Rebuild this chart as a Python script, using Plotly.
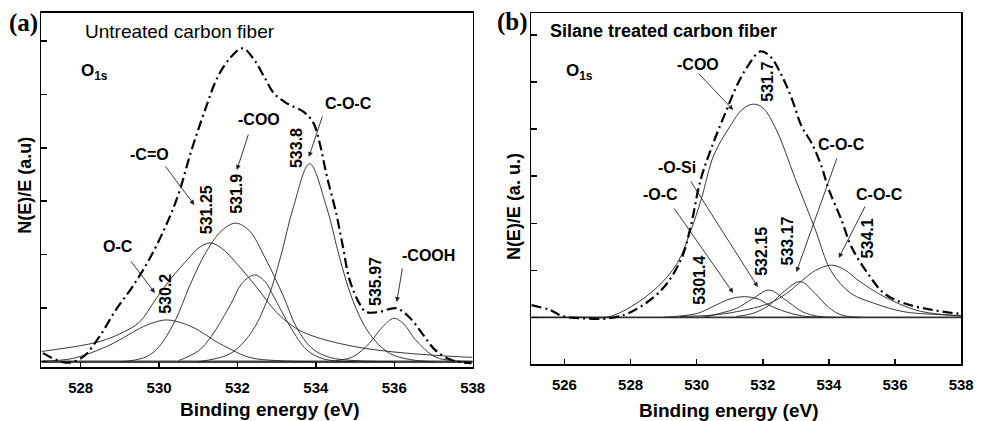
import plotly.graph_objects as go

W, H = 985, 421

# ---------------- Panel (a): untreated carbon fiber ----------------
a_oc_x = [527.0, 527.8, 528.65, 529.1, 529.5, 529.9, 530.2, 530.6, 531.0, 531.4, 531.7, 532.3, 533.0, 534.0]
a_oc_y = [0.01, 0.06, 0.28, 0.45, 0.62, 0.74, 0.78, 0.72, 0.59, 0.40, 0.28, 0.08, 0.02, 0.0]

a_co_x = [527.0, 528.0, 528.5, 529.0, 529.5, 529.9, 530.3, 530.75, 531.0, 531.3, 531.6, 532.0,
          532.5, 533.0, 533.5, 534.0, 535.0, 536.0, 537.0, 538.0]
a_co_y = [0.19, 0.30, 0.38, 0.52, 0.74, 1.15, 1.55, 1.93, 2.12, 2.22, 2.12, 1.82,
          1.38, 0.92, 0.62, 0.46, 0.28, 0.18, 0.12, 0.08]

a_coo_x = [529.0, 529.3, 529.7, 530.0, 530.4, 530.8, 531.2, 531.6, 531.95, 532.3, 532.7,
           533.18, 533.5, 533.9, 534.35, 535.0, 536.0]
a_coo_y = [0.0, 0.02, 0.10, 0.28, 0.75, 1.45, 2.05, 2.45, 2.59, 2.45, 1.95,
           1.21, 0.65, 0.25, 0.08, 0.02, 0.0]

a_p4_x = [530.5, 531.0, 531.33, 531.84, 532.1, 532.43, 532.7, 532.93, 533.35, 533.77, 534.2, 535.0]
a_p4_y = [0.02, 0.20, 0.47, 1.09, 1.45, 1.62, 1.50, 1.21, 0.65, 0.22, 0.05, 0.0]

a_coc_x = [531.0, 531.4, 531.84, 532.34, 532.76, 533.1, 533.43, 533.84, 534.27, 534.6, 534.94,
           535.36, 535.87, 536.4, 537.0]
a_coc_y = [0.0, 0.05, 0.16, 0.53, 1.15, 1.96, 2.90, 3.70, 2.90, 1.96, 1.15,
           0.53, 0.16, 0.04, 0.0]

a_cooh_x = [534.5, 534.94, 535.36, 535.7, 535.99, 536.25, 536.54, 537.04, 537.5, 538.0]
a_cooh_y = [0.02, 0.09, 0.34, 0.65, 0.81, 0.70, 0.41, 0.09, 0.02, 0.0]

a_env_x = [527.04, 527.64, 528.06, 528.48, 528.9, 529.32, 529.74, 530.16, 530.49, 530.83, 531.17,
           531.5, 531.84, 532.13, 532.43, 532.68, 532.93, 533.26, 533.69, 533.94, 534.1, 534.27,
           534.52, 534.69, 534.86, 535.11, 535.28, 535.62, 536.04, 536.37, 536.71, 537.04,
           537.46, 537.97]
a_env_y = [0.16, -0.02, 0.09, 0.47, 0.97, 1.40, 1.90, 2.52, 3.12, 3.96, 4.70,
           5.33, 5.70, 5.86, 5.64, 5.33, 5.02, 4.83, 4.67, 4.46, 4.08, 3.50,
           2.77, 2.15, 1.53, 1.09, 0.93, 0.93, 1.00, 0.84, 0.53, 0.22,
           0.03, -0.03]

a_base_x = [527.0, 538.0]
a_base_y = [0.0, 0.0]

# ---------------- Panel (b): silane treated carbon fiber ----------------
b_coo_x = [525.0, 526.5, 527.32, 528.02, 528.82, 529.41, 529.83, 530.13, 530.52, 531.0, 531.4, 531.71,
           532.0, 532.4, 532.98, 533.58, 534.07, 534.67, 535.37, 536.27, 537.65, 538.0]
b_coo_y = [0.0, 0.0, 0.01, 0.23, 0.65, 1.15, 1.86, 2.49, 3.45, 4.05, 4.43, 4.53,
           4.45, 4.0, 2.95, 1.88, 0.98, 0.51, 0.30, 0.12, 0.05, 0.04]

b_oc_x = [529.0, 529.5, 530.02, 530.52, 531.0, 531.45, 531.9, 532.19, 532.69, 533.2, 533.8]
b_oc_y = [0.0, 0.03, 0.085, 0.24, 0.39, 0.44, 0.38, 0.26, 0.12, 0.03, 0.0]

b_osi_x = [530.2, 530.7, 531.2, 531.7, 532.19, 532.69, 533.2, 533.7, 534.2]
b_osi_y = [0.0, 0.085, 0.19, 0.40, 0.58, 0.37, 0.12, 0.02, 0.0]

b_coc1_x = [531.2, 531.7, 532.19, 532.69, 533.14, 533.58, 533.98, 534.38, 535.0]
b_coc1_y = [0.02, 0.085, 0.26, 0.58, 0.76, 0.51, 0.22, 0.05, 0.0]

b_coc2_x = [529.5, 530.5, 531.2, 532.2, 532.7, 533.2, 533.6, 534.08, 534.5, 534.88, 535.67,
            536.66, 537.6, 538.0]
b_coc2_y = [0.02, 0.05, 0.12, 0.30, 0.50, 0.79, 1.00, 1.11, 1.00, 0.79, 0.44,
            0.15, 0.05, 0.03]

b_env_x = [525.0, 525.55, 525.94, 526.54, 527.34, 528.03, 528.93, 529.52, 529.82, 530.11, 530.5,
           530.9, 531.2, 531.51, 531.93, 532.23, 532.59, 532.89, 533.18, 533.48, 533.78, 533.98,
           534.38, 534.68, 535.17, 535.67, 536.27, 537.16, 537.86, 538.0]
b_env_y = [0.26, 0.16, 0.03, -0.02, -0.02, 0.12, 0.58, 1.22, 1.93, 2.90, 3.70,
           4.40, 4.90, 5.30, 5.65, 5.54, 5.11, 4.62, 4.05, 3.70, 3.20, 2.75,
           2.07, 1.50, 0.94, 0.51, 0.30, 0.155, 0.085, 0.08]

b_base_x = [525.0, 538.0]
b_base_y = [0.0, 0.0]

# ---------------- Figure ----------------
fig = go.Figure()
LC = "#222222"

def comp(x, y, xa, ya, w=0.9):
    fig.add_trace(go.Scatter(x=x, y=y, mode="lines", xaxis=xa, yaxis=ya,
                             line=dict(color=LC, width=w, shape="spline", smoothing=1.0),
                             hoverinfo="skip", showlegend=False))

def env(x, y, xa, ya):
    fig.add_trace(go.Scatter(x=x, y=y, mode="lines", xaxis=xa, yaxis=ya,
                             line=dict(color="black", width=2.2, shape="spline", smoothing=1.0,
                                       dash="10px,4px,2px,4px"),
                             hoverinfo="skip", showlegend=False))

# panel a
fig.add_trace(go.Scatter(x=a_base_x, y=a_base_y, mode="lines", xaxis="x", yaxis="y",
                         line=dict(color="#444", width=2.5), hoverinfo="skip", showlegend=False))
for xx, yy in [(a_oc_x, a_oc_y), (a_co_x, a_co_y), (a_coo_x, a_coo_y), (a_p4_x, a_p4_y),
               (a_coc_x, a_coc_y), (a_cooh_x, a_cooh_y)]:
    comp(xx, yy, "x", "y")
env(a_env_x, a_env_y, "x", "y")

# panel b
fig.add_trace(go.Scatter(x=b_base_x, y=b_base_y, mode="lines", xaxis="x2", yaxis="y2",
                         line=dict(color="#333", width=1.6), hoverinfo="skip", showlegend=False))
for xx, yy in [(b_coo_x, b_coo_y), (b_oc_x, b_oc_y), (b_osi_x, b_osi_y),
               (b_coc1_x, b_coc1_y), (b_coc2_x, b_coc2_y)]:
    comp(xx, yy, "x2", "y2")
env(b_env_x, b_env_y, "x2", "y2")

FONT = "Liberation Sans, Arial, sans-serif"
tickfont = dict(family=FONT, size=15, color="black", weight="bold")

def xax(domain, rng, tick0, anchor):
    return dict(domain=domain, range=rng, tick0=tick0, dtick=2, ticks="inside", ticklen=5,
                tickwidth=1.5, tickcolor="black", showline=True, linecolor="black", linewidth=1.6,
                mirror=True, showgrid=False, zeroline=False, tickfont=tickfont, anchor=anchor,
                ticklabelstandoff=6)

def yax(domain, rng, anchor):
    return dict(domain=domain, range=rng, tick0=0, dtick=1, ticks="inside", ticklen=6,
                tickwidth=1.5, tickcolor="black", showline=True, linecolor="black", linewidth=1.6,
                mirror=True, showgrid=False, zeroline=False, showticklabels=False, anchor=anchor)

fig.update_layout(
    width=W, height=H, autosize=False,
    margin=dict(l=0, r=0, t=0, b=0),
    paper_bgcolor="white", plot_bgcolor="white",
    xaxis=xax([42 / W, 479 / W], [527, 538], 528, "y"),
    yaxis=yax([1 - 367 / H, 1 - 13 / H], [-0.1, 6.52], "x"),
    xaxis2=xax([538.5 / W, 974 / W], [525, 538], 526, "y2"),
    yaxis2=yax([1 - 364 / H, 1 - 13.3 / H], [-0.99, 6.46], "x2"),
)

anns = []

def txt(px, py, text, size=16, bold=True, angle=0, family=FONT):
    anns.append(dict(xref="paper", yref="paper", x=px / W, y=1 - py / H, text=text,
                     showarrow=False, xanchor="center", yanchor="middle", textangle=angle,
                     font=dict(family=family, size=size, color="black",
                               weight="bold" if bold else "normal")))

def arrow(tail, head):
    anns.append(dict(xref="paper", yref="paper", x=head[0] / W, y=1 - head[1] / H,
                     axref="pixel", ayref="pixel", ax=tail[0] - head[0], ay=tail[1] - head[1],
                     text="", showarrow=True, arrowhead=2, arrowsize=1.1, arrowwidth=0.9,
                     arrowcolor="#222", standoff=0, startstandoff=0))

SERIF = "Liberation Serif, Times New Roman, serif"
# panel a texts
txt(24, 23, "(a)", size=25, family=SERIF)
txt(182, 31, "Untreated carbon fiber", size=19, bold=False)
txt(96, 72, "O<sub>1s</sub>", size=17)
txt(151, 154, "-C=O", size=16)
txt(120, 247, "O-C", size=16)
txt(262, 119, "-COO", size=16)
txt(353, 103, "C-O-C", size=16)
txt(434, 255, "-COOH", size=16)
txt(167, 294, "530.2", size=16, angle=-90)
txt(209, 210, "531.25", size=16, angle=-90)
txt(239, 194, "531.9", size=16, angle=-90)
txt(300, 148, "533.8", size=16, angle=-90)
txt(380, 281, "535.97", size=16, angle=-90)
txt(273, 409, "Binding energy (eV)", size=19)
txt(25, 185, "N(E)/E (a.u)", size=18, angle=-90)
arrow((167, 165), (197, 205))
arrow((132, 260), (157, 293))
arrow((252, 133), (240, 170))
arrow((327, 115), (313, 157))
arrow((408, 267), (402, 302))

# panel b texts
txt(519, 22, "(b)", size=25, family=SERIF)
txt(672, 31, "Silane treated carbon fiber", size=18)
txt(587, 72, "O<sub>1s</sub>", size=17)
txt(707, 64, "-COO", size=16)
txt(778, 82, "531.7", size=16, angle=-90)
txt(686, 167, "-O-Si", size=16)
txt(669, 194, "-O-C", size=16)
txt(708, 280, "5301.4", size=16, angle=-90)
txt(771, 251, "532.15", size=16, angle=-90)
txt(798, 241, "533.17", size=16, angle=-90)
txt(879, 238, "534.1", size=16, angle=-90)
txt(853, 144, "C-O-C", size=16)
txt(891, 194, "C-O-C", size=16)
txt(738, 410, "Binding energy (eV)", size=19)
txt(521, 207, "N(E)/E (a. u.)", size=18, angle=-90)
arrow((707, 72), (743, 110))
arrow((700, 180), (768, 287))
arrow((683, 207), (743, 293))
arrow((848, 157), (807, 272))
arrow((877, 205), (850, 258))

fig.update_layout(annotations=anns)
fig.write_html("out.html", config={"displayModeBar": False, "staticPlot": True},
               post_script="document.body.style.margin='0';document.body.style.overflow='hidden';")
